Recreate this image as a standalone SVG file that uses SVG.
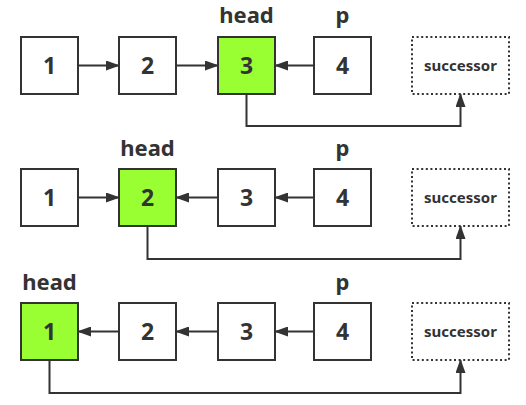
<svg xmlns="http://www.w3.org/2000/svg" width="526" height="405" viewBox="0 0 526 405">
<style>
.box{fill:#fff;stroke:#333;stroke-width:2}
.hl{fill:#99ff33;stroke:#333;stroke-width:2}
.succ{fill:#fff;stroke:#333;stroke-width:2;stroke-dasharray:2 2.6}
.num{font-family:"Noto Sans","Liberation Sans",sans-serif;font-weight:bold;font-size:23px;fill:#333;text-anchor:middle}
.lbl{font-family:"Noto Sans","Liberation Sans",sans-serif;font-weight:bold;font-size:22px;fill:#333;text-anchor:middle}
.st{font-family:"Noto Sans","Liberation Sans",sans-serif;font-weight:bold;font-size:15px;fill:#333;text-anchor:middle}
.c{fill:none;stroke:#333;stroke-width:2;marker-end:url(#ah)}
</style>
<defs>
<marker id="ah" viewBox="0 0 14 10" refX="13" refY="5" markerWidth="14" markerHeight="10" markerUnits="userSpaceOnUse" orient="auto">
<path d="M0,0 L14,5 L0,10 z" fill="#333"/>
</marker>
</defs>

<!-- Row 1 -->
<g id="r1-n1"><rect class="box" x="21" y="37" width="57" height="57"/><text class="num" x="49.5" y="74">1</text></g>
<g id="r1-n2"><rect class="box" x="119" y="37" width="57" height="57"/><text class="num" x="147.5" y="74">2</text></g>
<g id="r1-n3"><rect class="hl" x="218" y="37" width="57" height="57"/><text class="num" x="246.5" y="74">3</text></g>
<g id="r1-n4"><rect class="box" x="314" y="37" width="57" height="57"/><text class="num" x="342.5" y="74">4</text></g>
<g id="r1-succ"><rect class="succ" x="412" y="37" width="97" height="57"/><text class="st" x="460.5" y="71">successor</text></g>
<g id="r1-labels"><text class="lbl" x="246.5" y="23">head</text><text class="lbl" x="342.5" y="23">p</text></g>

<!-- Row 2 -->
<g id="r2-n1"><rect class="box" x="21" y="169" width="57" height="57"/><text class="num" x="49.5" y="206">1</text></g>
<g id="r2-n2"><rect class="hl" x="119" y="169" width="57" height="57"/><text class="num" x="147.5" y="206">2</text></g>
<g id="r2-n3"><rect class="box" x="218" y="169" width="57" height="57"/><text class="num" x="246.5" y="206">3</text></g>
<g id="r2-n4"><rect class="box" x="314" y="169" width="57" height="57"/><text class="num" x="342.5" y="206">4</text></g>
<g id="r2-succ"><rect class="succ" x="412" y="169" width="97" height="57"/><text class="st" x="460.5" y="203">successor</text></g>
<g id="r2-labels"><text class="lbl" x="147.5" y="156">head</text><text class="lbl" x="342.5" y="156">p</text></g>

<!-- Row 3 -->
<g id="r3-n1"><rect class="hl" x="21" y="303" width="57" height="57"/><text class="num" x="49.5" y="340">1</text></g>
<g id="r3-n2"><rect class="box" x="119" y="303" width="57" height="57"/><text class="num" x="147.5" y="340">2</text></g>
<g id="r3-n3"><rect class="box" x="218" y="303" width="57" height="57"/><text class="num" x="246.5" y="340">3</text></g>
<g id="r3-n4"><rect class="box" x="314" y="303" width="57" height="57"/><text class="num" x="342.5" y="340">4</text></g>
<g id="r3-succ"><rect class="succ" x="412" y="303" width="97" height="57"/><text class="st" x="460.5" y="337">successor</text></g>
<g id="r3-labels"><text class="lbl" x="49.5" y="290">head</text><text class="lbl" x="342.5" y="290">p</text></g>

<g id="connectors">
<line class="c" x1="78" y1="65.5" x2="119" y2="65.5"/>
<line class="c" x1="176" y1="65.5" x2="218" y2="65.5"/>
<line class="c" x1="314" y1="65.5" x2="275" y2="65.5"/>
<polyline class="c" points="246.5,94 246.5,126 460.5,126 460.5,94"/>

<line class="c" x1="78" y1="197.5" x2="119" y2="197.5"/>
<line class="c" x1="218" y1="197.5" x2="176" y2="197.5"/>
<line class="c" x1="314" y1="197.5" x2="275" y2="197.5"/>
<polyline class="c" points="147.5,226 147.5,259 460.5,259 460.5,226"/>

<line class="c" x1="119" y1="331.5" x2="78" y2="331.5"/>
<line class="c" x1="218" y1="331.5" x2="176" y2="331.5"/>
<line class="c" x1="314" y1="331.5" x2="275" y2="331.5"/>
<polyline class="c" points="49.5,360 49.5,393 460.5,393 460.5,360"/>
</g>
</svg>
